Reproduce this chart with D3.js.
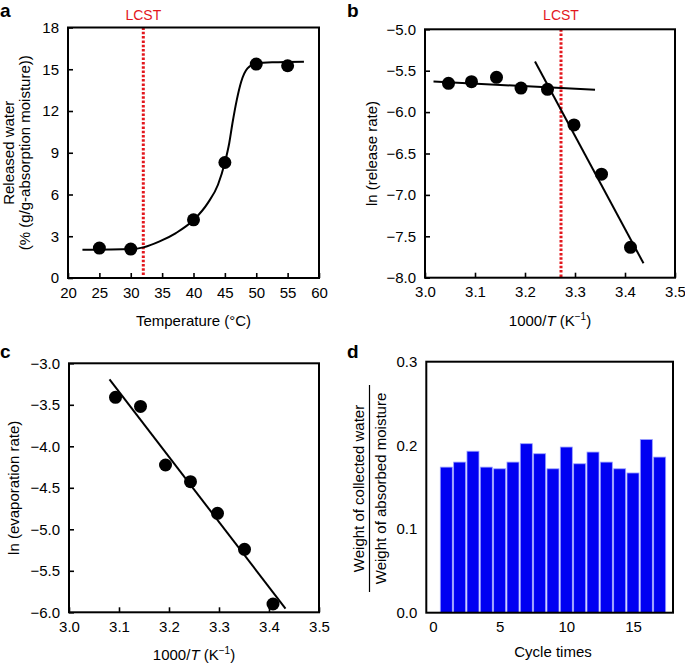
<!DOCTYPE html>
<html>
<head>
<meta charset="utf-8">
<script src="https://cdn.jsdelivr.net/npm/d3@7"></script>
<style>
  body { margin: 0; background: #fff; }
  svg { display: block; font-family: "Liberation Sans", Arial, sans-serif; }
</style>
</head>
<body>
<svg id="chart" width="685" height="665"></svg>
<script>
// ---------- Data ----------
// Panel a: released water vs temperature
const tempA = [25, 30, 40, 45, 50, 55];
const releasedA = [2.15, 2.08, 4.18, 8.3, 15.37, 15.25];
// fitted sigmoid curve
const curveTempA = [22.3, 30.1, 32, 34.6, 37.2, 40.05, 42.3, 43.9, 45.0, 45.7, 46.2, 46.9, 47.6, 48.6, 50.0, 52.6, 57.6];
const curveValA  = [2.03, 2.08, 2.2, 2.63, 3.23, 4.18, 5.4, 6.7, 8.3, 9.7, 11.1, 12.8, 14.1, 15.06, 15.42, 15.5, 15.54];
const lcstA = 32;

// Panel b: ln(release rate) vs 1000/T
const invTB = [3.047, 3.093, 3.143, 3.192, 3.245, 3.298, 3.353, 3.411];
const lnRateB = [-5.652, -5.632, -5.58, -5.71, -5.725, -6.155, -6.75, -7.633];
const flatLineB = { x: [3.017, 3.340], y: [-5.63, -5.73] };
const steepLineB = { x: [3.220, 3.437], y: [-5.39, -7.826] };
const lcstB = 3.272;

// Panel c: ln(evaporation rate) vs 1000/T
const invTC = [3.093, 3.143, 3.193, 3.243, 3.297, 3.351, 3.408];
const lnEvapC = [-3.41, -3.52, -4.225, -4.426, -4.807, -5.241, -5.90];
const fitLineC = { x: [3.081, 3.433], y: [-3.193, -5.956] };

// Panel d: cycle ratio
const cyclesD = [1, 2, 3, 4, 5, 6, 7, 8, 9, 10, 11, 12, 13, 14, 15, 16, 17];
const ratioD = [0.174, 0.180, 0.193, 0.174, 0.172, 0.180, 0.202, 0.190, 0.172, 0.198, 0.178, 0.192, 0.180, 0.172, 0.167, 0.207, 0.186];

// Tick values
const ticksAx = [20, 25, 30, 35, 40, 45, 50, 55, 60];
const ticksAy = [0, 3, 6, 9, 12, 15, 18];
const ticksBx = [3.0, 3.1, 3.2, 3.3, 3.4, 3.5];
const ticksBy = [-5.0, -5.5, -6.0, -6.5, -7.0, -7.5, -8.0];
const ticksCy = [-3.0, -3.5, -4.0, -4.5, -5.0, -5.5, -6.0];
const ticksDx = [0, 5, 10, 15];
const ticksDy = [0.0, 0.1, 0.2, 0.3];

// ---------- Drawing ----------
const svg = d3.select("#chart");
const RED = "#e3171d";
const FS = 15;

function panel(opt) {
  const x = d3.scaleLinear().domain(opt.xd).range([opt.l, opt.r]);
  const y = d3.scaleLinear().domain(opt.yd).range([opt.b, opt.t]);
  const g = svg.append("g");
  const tickLen = opt.noTicks ? 0 : -5;
  const ax = g.append("g").attr("transform", `translate(0,${opt.b})`)
    .call(d3.axisBottom(x).tickValues(opt.xt).tickFormat(opt.xf).tickSizeInner(tickLen).tickSizeOuter(0).tickPadding(9));
  const ay = g.append("g").attr("transform", `translate(${opt.l},0)`)
    .call(d3.axisLeft(y).tickValues(opt.yt).tickFormat(opt.yf).tickSizeInner(tickLen).tickSizeOuter(0).tickPadding(9));
  [ax, ay].forEach(a => {
    a.select(".domain").remove();
    a.selectAll("line").attr("stroke", "#000").attr("stroke-width", 1.6);
    a.selectAll("text").attr("font-size", FS).attr("fill", "#000")
      .attr("font-family", "Liberation Sans, Arial, sans-serif");
  });
  ax.selectAll("text").attr("dy", "0.71em");
  return { g, x, y };
}

function frame(p, opt) {
  p.g.append("rect").attr("x", opt.l).attr("y", opt.t)
    .attr("width", opt.r - opt.l).attr("height", opt.b - opt.t)
    .attr("fill", "none").attr("stroke", "#000").attr("stroke-width", 2);
}

function label(txt, x, y) {
  svg.append("text").attr("x", x).attr("y", y).attr("font-size", 19)
    .attr("font-weight", "bold").text(txt);
}

const f1 = d3.format(".1f");
const f0 = d3.format("d");

// ----- Panel a -----
const oa = { l: 68, r: 319, t: 27.5, b: 278, xd: [20, 60], yd: [0, 18], xt: ticksAx, yt: ticksAy, xf: f0, yf: f0 };
const pa = panel(oa);
pa.g.append("line").attr("x1", pa.x(lcstA)).attr("x2", pa.x(lcstA)).attr("y1", oa.t).attr("y2", oa.b)
  .attr("stroke", RED).attr("stroke-width", 3).attr("stroke-dasharray", "2.5,1.8");
pa.g.append("path").datum(curveTempA.map((d, i) => [d, curveValA[i]]))
  .attr("d", d3.line().x(d => pa.x(d[0])).y(d => pa.y(d[1])).curve(d3.curveMonotoneX))
  .attr("fill", "none").attr("stroke", "#000").attr("stroke-width", 2);
pa.g.selectAll("circle.pt").data(tempA).join("circle")
  .attr("cx", d => pa.x(d)).attr("cy", (d, i) => pa.y(releasedA[i])).attr("r", 6.5).attr("fill", "#000");
frame(pa, oa);
svg.append("text").attr("x", pa.x(lcstA)).attr("y", 20).attr("text-anchor", "middle")
  .attr("font-size", 14).attr("fill", RED).text("LCST");
svg.append("text").attr("x", (oa.l + oa.r) / 2).attr("y", 326).attr("text-anchor", "middle")
  .attr("font-size", FS).text("Temperature (°C)");
svg.append("text").attr("transform", `translate(14,${(oa.t + oa.b) / 2}) rotate(-90)`)
  .attr("text-anchor", "middle").attr("font-size", FS).text("Released water");
svg.append("text").attr("transform", `translate(30,${(oa.t + oa.b) / 2}) rotate(-90)`)
  .attr("text-anchor", "middle").attr("font-size", FS).text("(% (g/g-absorption moisture))");
label("a", 0, 17);

// ----- Panel b -----
const ob = { l: 425, r: 675, t: 29.3, b: 277.7, xd: [3.0, 3.5], yd: [-8, -5], xt: ticksBx, yt: ticksBy, xf: f1, yf: f1 };
const pb = panel(ob);
pb.g.append("line").attr("x1", pb.x(lcstB)).attr("x2", pb.x(lcstB)).attr("y1", ob.t).attr("y2", ob.b)
  .attr("stroke", RED).attr("stroke-width", 3).attr("stroke-dasharray", "2.5,1.8");
[flatLineB, steepLineB].forEach(L => {
  pb.g.append("line").attr("x1", pb.x(L.x[0])).attr("y1", pb.y(L.y[0]))
    .attr("x2", pb.x(L.x[1])).attr("y2", pb.y(L.y[1]))
    .attr("stroke", "#000").attr("stroke-width", 2);
});
pb.g.selectAll("circle.pt").data(invTB).join("circle")
  .attr("cx", d => pb.x(d)).attr("cy", (d, i) => pb.y(lnRateB[i])).attr("r", 6.5).attr("fill", "#000");
frame(pb, ob);
svg.append("text").attr("x", pb.x(lcstB)).attr("y", 20).attr("text-anchor", "middle")
  .attr("font-size", 14).attr("fill", RED).text("LCST");
const tb = svg.append("text").attr("x", (ob.l + ob.r) / 2).attr("y", 326).attr("text-anchor", "middle").attr("font-size", FS);
tb.append("tspan").text("1000/");
tb.append("tspan").attr("font-style", "italic").text("T");
tb.append("tspan").text(" (K");
tb.append("tspan").attr("font-size", 10).attr("dy", -6).text("−1");
tb.append("tspan").attr("dy", 6).text(")");
svg.append("text").attr("transform", `translate(377,${(ob.t + ob.b) / 2}) rotate(-90)`)
  .attr("text-anchor", "middle").attr("font-size", FS).text("ln (release rate)");
label("b", 347, 17);

// ----- Panel c -----
const oc = { l: 69, r: 319, t: 363.3, b: 612.3, xd: [3.0, 3.5], yd: [-6, -3], xt: ticksBx, yt: ticksCy, xf: f1, yf: f1 };
const pc = panel(oc);
pc.g.append("line").attr("x1", pc.x(fitLineC.x[0])).attr("y1", pc.y(fitLineC.y[0]))
  .attr("x2", pc.x(fitLineC.x[1])).attr("y2", pc.y(fitLineC.y[1]))
  .attr("stroke", "#000").attr("stroke-width", 2);
pc.g.selectAll("circle.pt").data(invTC).join("circle")
  .attr("cx", d => pc.x(d)).attr("cy", (d, i) => pc.y(lnEvapC[i])).attr("r", 6.5).attr("fill", "#000");
frame(pc, oc);
const tc = svg.append("text").attr("x", (oc.l + oc.r) / 2).attr("y", 660).attr("text-anchor", "middle").attr("font-size", FS);
tc.append("tspan").text("1000/");
tc.append("tspan").attr("font-style", "italic").text("T");
tc.append("tspan").text(" (K");
tc.append("tspan").attr("font-size", 10).attr("dy", -6).text("−1");
tc.append("tspan").attr("dy", 6).text(")");
svg.append("text").attr("transform", `translate(19,${(oc.t + oc.b) / 2}) rotate(-90)`)
  .attr("text-anchor", "middle").attr("font-size", FS).text("ln (evaporation rate)");
label("c", 0, 358);

// ----- Panel d -----
const od = { l: 426.3, r: 673, t: 361.7, b: 612.7, xd: [-0.5, 18], yd: [0, 0.3], xt: ticksDx, yt: ticksDy, xf: f0, yf: f1, noTicks: true };
const pd = panel(od);
const bw = 0.9;
pd.g.selectAll("rect.bar").data(cyclesD).join("rect")
  .attr("x", d => pd.x(d - bw / 2)).attr("width", d => pd.x(d + bw / 2) - pd.x(d - bw / 2))
  .attr("y", (d, i) => pd.y(ratioD[i])).attr("height", (d, i) => pd.y(0) - pd.y(ratioD[i]))
  .attr("fill", "#0000f2").attr("stroke", "#9aa0ff").attr("stroke-width", 0.8);
frame(pd, od);
svg.append("text").attr("x", 553).attr("y", 657).attr("text-anchor", "middle")
  .attr("font-size", FS).text("Cycle times");
const fr = svg.append("g").attr("transform", `translate(369.5,488.5) rotate(-90)`);
fr.append("text").attr("x", 0).attr("y", -5.5).attr("text-anchor", "middle").attr("font-size", FS).text("Weight of collected water");
fr.append("line").attr("x1", -103.5).attr("x2", 103.5).attr("y1", 0).attr("y2", 0).attr("stroke", "#000").attr("stroke-width", 1.2);
fr.append("text").attr("x", 0).attr("y", 16.5).attr("text-anchor", "middle").attr("font-size", FS).text("Weight of absorbed moisture");
label("d", 347, 358);
</script>
</body>
</html>
